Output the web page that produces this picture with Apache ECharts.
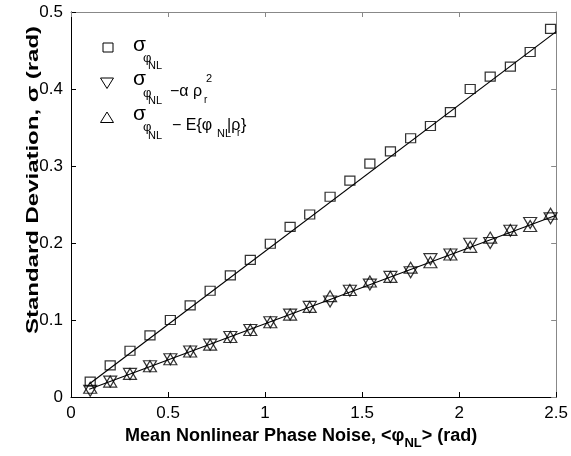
<!DOCTYPE html>
<html>
<head>
<meta charset="utf-8">
<script src="https://cdn.jsdelivr.net/npm/echarts@6/dist/echarts.min.js"></script>
<style>
  html, body { margin: 0; padding: 0; background: #fff; }
  #chart { width: 571px; height: 456px; }
</style>
</head>
<body>
<div id="chart"></div>
<script>
// mean nonlinear phase noise (rad)
const meanPhase = [0.099, 0.202, 0.304, 0.407, 0.512, 0.614, 0.717, 0.821, 0.924, 1.027, 1.129, 1.230,
  1.335, 1.437, 1.540, 1.646, 1.750, 1.852, 1.955, 2.057, 2.160, 2.264, 2.366, 2.471];
// sigma of phi_NL (squares)
const sigmaNL = [0.020, 0.041, 0.060, 0.080, 0.100, 0.119, 0.138, 0.158, 0.178, 0.199, 0.221, 0.237,
  0.260, 0.281, 0.303, 0.319, 0.336, 0.352, 0.370, 0.400, 0.416, 0.429, 0.448, 0.478];
// sigma of phi_NL - alpha rho_r^2 (down triangles)
const sigmaAlpha = [0.008, 0.020, 0.030, 0.040, 0.049, 0.059, 0.068, 0.078, 0.087, 0.097, 0.107, 0.117,
  0.124, 0.138, 0.146, 0.156, 0.162, 0.179, 0.185, 0.199, 0.200, 0.216, 0.226, 0.232];
// sigma of phi_NL - E{phi_NL | rho_r} (up triangles)
const sigmaCond = [0.012, 0.020, 0.030, 0.040, 0.049, 0.059, 0.068, 0.078, 0.087, 0.097, 0.107, 0.117,
  0.131, 0.139, 0.150, 0.156, 0.168, 0.175, 0.185, 0.195, 0.207, 0.217, 0.222, 0.238];
// fitted lines (end points)
const fitUpperX = [0.094, 2.5];
const fitUpperY = [0.017, 0.4745];
const fitLowerX = [0.094, 2.5];
const fitLowerY = [0.010, 0.236];

const FONT = '"Liberation Sans", Arial, sans-serif';
const zip = (xs, ys) => xs.map((x, i) => [x, ys[i]]);

const ctx = document.createElement('canvas').getContext('2d');
function textW(t, size, weight) {
  ctx.font = (weight || 'normal') + ' ' + size + 'px ' + FONT;
  return ctx.measureText(t).width;
}
// piece: text at x, baseline y
function piece(t, x, y, size, weight) {
  return {
    type: 'text', silent: true,
    style: {
      text: t, x: x, y: y - 0.36 * size,
      font: (weight || 'normal') + ' ' + size + 'px ' + FONT,
      fill: '#000', verticalAlign: 'middle', align: 'left'
    }
  };
}
// run of pieces placed one after another
function run(list, x0) {
  let x = x0;
  const out = [];
  list.forEach(p => {
    out.push(piece(p[0], x, p[1], p[2], p[3]));
    x += textW(p[0], p[2], p[3]);
  });
  return out;
}

const graphics = [];
// legend markers
graphics.push({ type: 'rect', shape: { x: 103, y: 43, width: 10, height: 9 },
  style: { fill: 'none', stroke: '#000', lineWidth: 1 } });
graphics.push({ type: 'polygon', shape: { points: [[100.5, 78], [113.5, 78], [107, 88.5]] },
  style: { fill: 'none', stroke: '#000', lineWidth: 1 } });
graphics.push({ type: 'polygon', shape: { points: [[100.5, 122.5], [113.5, 122.5], [107, 112]] },
  style: { fill: 'none', stroke: '#000', lineWidth: 1 } });

// legend texts
[[53, 63, 70], [87, 98, 105], [122, 132, 140]].forEach(b => {
  graphics.push(piece('σ', 133, b[0], 21));
  graphics.push(piece('φ', 143, b[1], 13));
  graphics.push(piece('NL', 148, b[2], 11));
});
graphics.push(piece('−α ρ', 170, 97, 16));
graphics.push(piece('2', 206, 83, 11));
graphics.push(piece('r', 204, 104, 10));
graphics.push(piece('− E{φ', 172, 131.5, 16));
graphics.push(piece('NL', 217, 138, 11));
graphics.push(piece('|ρ', 227, 131.5, 16));
graphics.push(piece('r', 237, 137, 10));
graphics.push(piece('}', 241, 131.5, 16));

// x axis title
const xt = [['Mean Nonlinear Phase Noise, <φ', 443, 18, 'bold'], ['NL', 448, 13, 'bold'], ['> (rad)', 443, 18, 'bold']];
graphics.push(...run(xt, 125));

// y axis title (stretched along its length like the reference)
const yTitle = 'Standard Deviation, σ (rad)';
const yTitleScale = 308 / textW(yTitle, 16, 'bold');
graphics.push({
  type: 'text', silent: true, x: 34, y: 180, rotation: Math.PI / 2, scaleX: yTitleScale,
  style: { text: yTitle, font: 'bold 16px ' + FONT, fill: '#000',
    align: 'center', verticalAlign: 'middle' }
});

const chart = echarts.init(document.getElementById('chart'), null, { renderer: 'canvas' });

function axis(extra, color, labels) {
  return Object.assign({
    type: 'value',
    splitLine: { show: false },
    axisLine: { show: true, onZero: false, lineStyle: { color: color, width: 1 } },
    axisTick: { show: true, inside: true, length: 5, lineStyle: { color: color } },
    axisLabel: labels ? { fontFamily: FONT, fontSize: 17, color: '#000' } : { show: false }
  }, extra);
}

const option = {
  backgroundColor: '#fff',
  animation: false,
  grid: { left: 71, right: 13, top: 12, bottom: 59 },
  xAxis: [
    axis({ min: 0, max: 2.5, interval: 0.5, position: 'bottom' }, '#000', true),
    axis({ min: 0, max: 2.5, interval: 0.5, position: 'top' }, '#888', false)
  ],
  yAxis: [
    axis({ min: 0, max: 0.5, interval: 0.1, position: 'left' }, '#000', true),
    axis({ min: 0, max: 0.5, interval: 0.1, position: 'right' }, '#888', false)
  ],
  series: [
    {
      name: 'fitUpper', type: 'line', data: zip(fitUpperX, fitUpperY), showSymbol: false,
      lineStyle: { color: '#000', width: 1.2 }, silent: true
    },
    {
      name: 'fitLower', type: 'line', data: zip(fitLowerX, fitLowerY), showSymbol: false,
      lineStyle: { color: '#000', width: 1.2 }, silent: true
    },
    {
      name: 'sigmaNL', type: 'scatter', data: zip(meanPhase, sigmaNL),
      symbol: 'rect', symbolSize: [10, 9],
      itemStyle: { color: 'none', borderColor: '#000', borderWidth: 1.2 }
    },
    {
      name: 'sigmaAlpha', type: 'scatter', data: zip(meanPhase, sigmaAlpha),
      symbol: 'triangle', symbolRotate: 180, symbolSize: [13, 11],
      itemStyle: { color: 'none', borderColor: '#000', borderWidth: 1.2 }
    },
    {
      name: 'sigmaCond', type: 'scatter', data: zip(meanPhase, sigmaCond),
      symbol: 'triangle', symbolSize: [13, 11],
      itemStyle: { color: 'none', borderColor: '#000', borderWidth: 1.2 }
    }
  ],
  graphic: graphics
};

chart.setOption(option);
</script>
</body>
</html>
